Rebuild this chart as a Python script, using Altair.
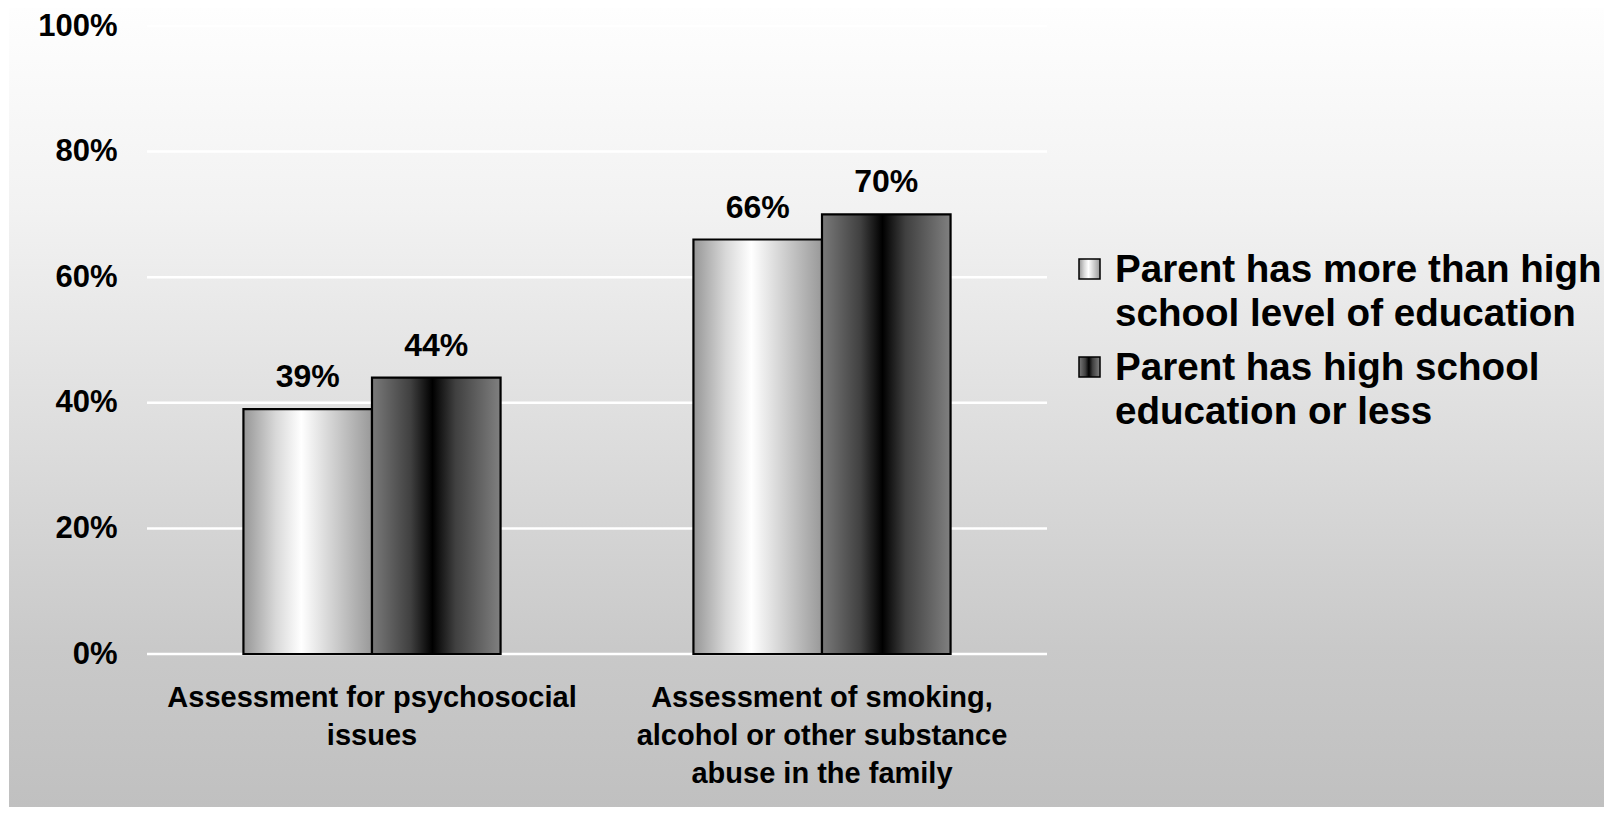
import altair as alt
import pandas as pd

# ---- data ----
categories = ["Assessment for psychosocial|issues",
              "Assessment of smoking,|alcohol or other substance|abuse in the family"]
series = ["Parent has more than high school level of education",
          "Parent has high school education or less"]
series_lines = [["Parent has more than high", "school level of education"],
                ["Parent has high school", "education or less"]]
values_more = [0.39, 0.66]
values_less = [0.44, 0.70]
y_ticks = [0, 0.2, 0.4, 0.6, 0.8, 1.0]

rows = []
for c, v in zip(categories, values_more):
    rows.append({"category": c, "series": series[0], "value": v})
for c, v in zip(categories, values_less):
    rows.append({"category": c, "series": series[1], "value": v})
df = pd.DataFrame(rows)
ticks_df = pd.DataFrame({"value": y_ticks})

FONT = "Liberation Sans"
W, H = 900, 628
PL, PT = 139, 18
TOTAL_W, TOTAL_H = 1596, 799

light_grad = alt.Gradient(
    gradient="linear", x1=0, x2=1, y1=0, y2=0,
    stops=[alt.GradientStop(color="#969696", offset=0),
           alt.GradientStop(color="#d8d8d8", offset=0.25),
           alt.GradientStop(color="#ffffff", offset=0.45),
           alt.GradientStop(color="#d0d0d0", offset=0.7),
           alt.GradientStop(color="#999999", offset=1)])
dark_grad = alt.Gradient(
    gradient="linear", x1=0, x2=1, y1=0, y2=0,
    stops=[alt.GradientStop(color="#7a7a7a", offset=0),
           alt.GradientStop(color="#404040", offset=0.3),
           alt.GradientStop(color="#000000", offset=0.47),
           alt.GradientStop(color="#404040", offset=0.65),
           alt.GradientStop(color="#808080", offset=1)])
bg_grad = alt.Gradient(
    gradient="linear", x1=0, x2=0, y1=0, y2=1,
    stops=[alt.GradientStop(color="#fefefe", offset=0),
           alt.GradientStop(color="#f2f2f2", offset=0.25),
           alt.GradientStop(color="#dcdcdc", offset=0.55),
           alt.GradientStop(color="#c9c9c9", offset=0.8),
           alt.GradientStop(color="#c0c0c0", offset=1)])

x_enc = alt.X("category:N",
              scale=alt.Scale(domain=categories, paddingInner=0.4286, paddingOuter=0.2143),
              sort=categories,
              axis=alt.Axis(title=None, labelExpr="split(datum.value, '|')",
                            labelAngle=0, labelFontSize=29, labelFont=FONT,
                            labelFontWeight="bold", labelColor="black",
                            labelLineHeight=38, labelPadding=29, labelLimit=0,
                            ticks=False, domain=False, grid=False, zindex=1))
xo_enc = alt.XOffset("series:N", scale=alt.Scale(domain=series), sort=series)
y_enc = alt.Y("value:Q", scale=alt.Scale(domain=[0, 1]),
              axis=alt.Axis(title=None, format=".0%", values=y_ticks,
                            labelFontSize=31, labelFont=FONT, labelFontWeight="bold",
                            labelColor="black", labelPadding=30, ticks=False,
                            domain=False, grid=False, zindex=1))

one = pd.DataFrame({"k": [0]})
background = alt.Chart(one).mark_rect(fill=bg_grad).encode(
    x=alt.value(-PL + 1), x2=alt.value(TOTAL_W - PL),
    y=alt.value(-PT), y2=alt.value(TOTAL_H - PT))

grid = alt.Chart(ticks_df).mark_rule(color="white", strokeWidth=2.5).encode(
    y=alt.Y("value:Q"), x=alt.value(0), x2=alt.value(W))

base = alt.Chart(df)
bars_more = base.transform_filter(alt.datum.series == series[0]).mark_bar(
    fill=light_grad, stroke="black", strokeWidth=2.2).encode(x=x_enc, xOffset=xo_enc, y=y_enc)
bars_less = base.transform_filter(alt.datum.series == series[1]).mark_bar(
    fill=dark_grad, stroke="black", strokeWidth=2.2).encode(x=x_enc, xOffset=xo_enc, y=y_enc)
labels = base.mark_text(font=FONT, fontSize=32, fontWeight="bold", color="black",
                        baseline="alphabetic", dy=-22).encode(
    x=x_enc, xOffset=xo_enc, y=y_enc, text=alt.Text("value:Q", format=".0%"))

# ---- legend (decoration) ----
leg_df = pd.DataFrame({"series": series, "lines": series_lines})
legend_layers = []
for i, g in enumerate([light_grad, dark_grad]):
    yc = 243 + 98 * i
    legend_layers.append(
        alt.Chart(leg_df.iloc[[i]]).mark_rect(fill=g, stroke="black", strokeWidth=1.5).encode(
            x=alt.value(932), x2=alt.value(953), y=alt.value(yc - 10), y2=alt.value(yc + 10)))
    legend_layers.append(
        alt.Chart(leg_df.iloc[[i]]).mark_text(font=FONT, fontSize=38.6, fontWeight="bold",
                                              color="black", align="left", baseline="top",
                                              lineHeight=44).encode(
            x=alt.value(968), y=alt.value(yc - 16.6), text="lines"))

chart = alt.layer(background, grid, bars_more, bars_less, labels, *legend_layers).properties(
    width=W, height=H,
    autosize=alt.AutoSizeParams(type="none"),
    padding={"left": PL, "top": PT, "right": TOTAL_W - PL - W, "bottom": TOTAL_H - PT - H},
).configure_view(stroke=None).configure(background="white")

chart.save("out.html", embed_options={"renderer": "svg", "actions": False})
